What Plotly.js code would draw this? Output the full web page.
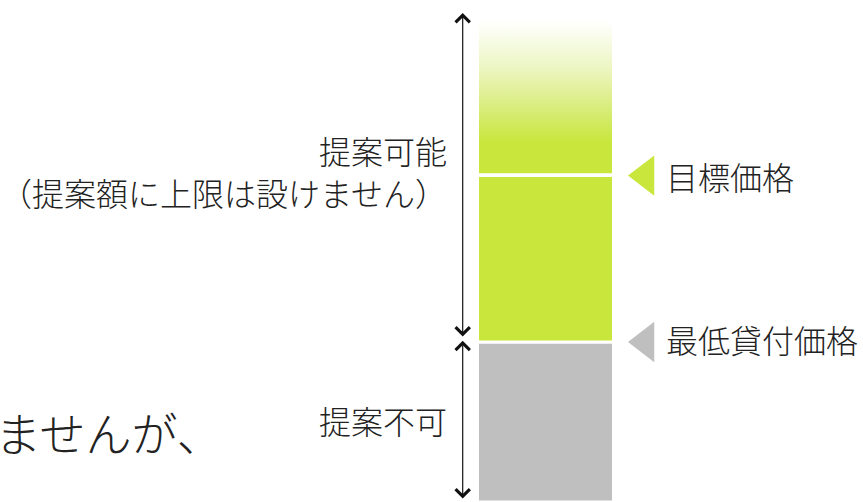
<!DOCTYPE html>
<html><head><meta charset="utf-8">
<script src="https://cdn.plot.ly/plotly-3.0.1.min.js"></script>
<style>html,body{margin:0;padding:0;background:#fff;overflow:hidden}#chart{width:863px;height:502px;}</style>
</head><body><div id="chart"></div>
<script>
// ---- data (price level units) ----
const minimumLendingPrice = 100;   // 最低貸付価格
const targetPrice = 204;           // 目標価格
const openEndTop = 301;            // top of the fading "no upper limit" zone
const markerLabels = ['目標価格', '最低貸付価格'];
const markerValues = [targetPrice, minimumLendingPrice];
const zoneLabels = ['提案可能<br>（提案額に上限は設けません）', '提案不可'];
const cutOffText = 'ませんが、';

// ---- styles ----
const GREEN = '#C8E63C', GRAY = '#BFBFBF', INK = '#222222';
const FONT = '"Noto Sans CJK JP", "Noto Sans", sans-serif';
const PX_PER_X = 133, W = 863, H = 502, PX_PER_Y = 1.6;
const BAR_CX = 545.5;
const xRange = [-BAR_CX / PX_PER_X, (W - BAR_CX) / PX_PER_X];
const yRange = [0, H / PX_PER_Y];
const toX = px => (px - BAR_CX) / PX_PER_X;
const SEP = 3;                     // white separator line (px)
const BAR_W = 1 + SEP / PX_PER_X;
const GAP = 1.5;
const ARROW_X = toX(462.7), TRI_X = toX(645.5), LABEL_X = toX(664), ZONE_X = toX(449);
const txt = (size) => ({ family: FONT, size: size, color: INK, weight: 300 });

const traces = [
  { type: 'bar', x: [0], y: [minimumLendingPrice], base: [0], width: [BAR_W],
    marker: { color: GRAY, line: { color: '#ffffff', width: SEP } }, hoverinfo: 'skip' },
  { type: 'bar', x: [0], y: [targetPrice - minimumLendingPrice], base: [minimumLendingPrice], width: [BAR_W],
    marker: { color: GREEN, line: { color: '#ffffff', width: SEP } }, hoverinfo: 'skip' },
  { type: 'scatter', mode: 'none', x: [-0.5, 0.5, 0.5, -0.5, -0.5],
    y: [targetPrice + GAP, targetPrice + GAP, openEndTop, openEndTop, targetPrice + GAP],
    fill: 'toself',
    fillgradient: { type: 'vertical',
      colorscale: [[0, GREEN], [0.2, GREEN], [0.48, '#DDEE8A'], [0.7, '#EDF6C5'], [0.92, '#FAFDF0'], [1, '#FFFFFF']] },
    hoverinfo: 'skip' },
  { type: 'scatter', mode: 'markers', x: [TRI_X, TRI_X], y: markerValues,
    marker: { symbol: 'triangle-left', size: 35, color: [GREEN, GRAY], line: { width: 0 } }, hoverinfo: 'skip' }
];

const arrowCommon = { xref: 'x', yref: 'y', axref: 'x', ayref: 'y', text: '', showarrow: true,
  arrowhead: 4, startarrowhead: 4, arrowside: 'end+start', arrowsize: 2.3, startarrowsize: 2.3,
  arrowwidth: 1.2, arrowcolor: '#111111' };

const annotations = [
  Object.assign({}, arrowCommon, { x: ARROW_X, y: openEndTop + 4.6, ax: ARROW_X, ay: minimumLendingPrice + 2.5 }),
  Object.assign({}, arrowCommon, { x: ARROW_X, y: minimumLendingPrice + 0.8, ax: ARROW_X, ay: 1.3 }),
  { xref: 'x', yref: 'y', x: LABEL_X, y: markerValues[0], text: markerLabels[0], showarrow: false,
    xanchor: 'left', yanchor: 'middle', font: txt(32) },
  { xref: 'x', yref: 'y', x: LABEL_X, y: markerValues[1] + 2, text: markerLabels[1], showarrow: false,
    xanchor: 'left', yanchor: 'middle', font: txt(32) },
  { xref: 'x', yref: 'y', x: ZONE_X, y: 206.8, text: zoneLabels[0], showarrow: false, align: 'right',
    xanchor: 'right', yanchor: 'middle', font: txt(32) },
  { xref: 'x', yref: 'y', x: ZONE_X, y: minimumLendingPrice / 2 + 1, text: zoneLabels[1], showarrow: false,
    xanchor: 'right', yanchor: 'middle', font: txt(32) },
  { xref: 'x', yref: 'y', x: toX(225), y: 44.4, text: cutOffText, showarrow: false,
    xanchor: 'right', yanchor: 'middle', font: txt(46) }
];

const layout = {
  width: W, height: H, margin: { l: 0, r: 0, t: 0, b: 0 },
  paper_bgcolor: '#ffffff', plot_bgcolor: '#ffffff', showlegend: false,
  barmode: 'overlay',
  xaxis: { range: xRange, visible: false, fixedrange: true },
  yaxis: { range: yRange, visible: false, fixedrange: true },
  annotations: annotations
};

Plotly.newPlot('chart', traces, layout, { staticPlot: true, displayModeBar: false });
</script></body></html>
